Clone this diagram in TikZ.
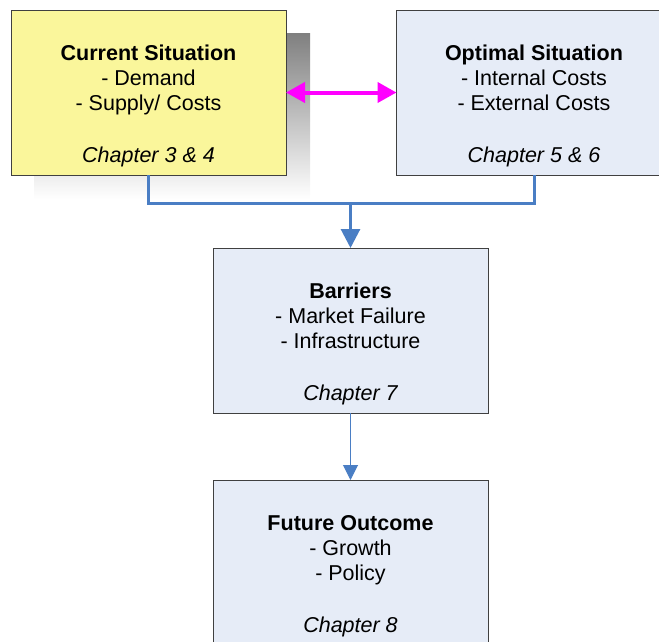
\documentclass[tikz,border=0pt]{standalone}
\usepackage{fontspec}
\setmainfont{Liberation Sans}
\usetikzlibrary{arrows.meta}
\definecolor{yfill}{RGB}{250,246,155}
\definecolor{bfill}{RGB}{230,236,247}
\definecolor{shade}{RGB}{227,227,227}
\definecolor{edge}{RGB}{64,64,64}
\definecolor{conn}{RGB}{74,126,196}
\definecolor{mag}{RGB}{255,0,255}
\tikzset{
  box/.style={draw=edge, line width=1pt, minimum width=275pt, minimum height=165pt, inner sep=0pt, outer sep=0pt},
  txt/.style={anchor=base, inner sep=0pt, font=\fontsize{21.5}{25}\selectfont},
  ttl/.style={txt, font=\fontsize{21.5}{25}\selectfont\bfseries},
  chp/.style={txt, font=\fontsize{21.5}{25}\selectfont\itshape},
}
\begin{document}
\begin{tikzpicture}[x=1pt,y=-1pt]
\useasboundingbox (0,0) rectangle (659,641);
% shadow
\fill[shade] (34,33) rectangle (310,199);
% boxes
\node[box, fill=yfill] (cur) at (148.5,92.5) {};
\node[box, fill=bfill] (opt) at (534,92.5) {};
\node[box, fill=bfill] (bar) at (350.5,330.5) {};
\node[box, fill=bfill] (fut) at (350.5,562.5) {};
% texts
\node[ttl] (t1) at (148.5,60) {Current Situation};
\node[txt] (t2) at (148.5,85) {- Demand};
\node[txt] (t3) at (148.5,110) {- Supply/ Costs};
\node[chp] (t4) at (148.5,162) {Chapter 3 \& 4};
\node[ttl] (o1) at (534,60) {Optimal Situation};
\node[txt] (o2) at (534,85) {- Internal Costs};
\node[txt] (o3) at (534,110) {- External Costs};
\node[chp] (o4) at (534,162) {Chapter 5 \& 6};
\node[ttl] (b1) at (350.5,298) {Barriers};
\node[txt] (b2) at (350.5,323) {- Market Failure};
\node[txt] (b3) at (350.5,348) {- Infrastructure};
\node[chp] (b4) at (350.5,400) {Chapter 7};
\node[ttl] (f1) at (350.5,530) {Future Outcome};
\node[txt] (f2) at (350.5,555) {- Growth};
\node[txt] (f3) at (350.5,580) {- Policy};
\node[chp] (f4) at (350.5,632) {Chapter 8};
% connectors
\coordinate (j) at (350.5,203);
\draw[conn, line width=3pt] (cur.south) |- (j) -| (opt.south);
\draw[conn, line width=3pt, -{Triangle[length=19pt,width=19pt]}] (j) -- (bar.north);
\draw[conn, line width=1pt, -{Triangle[length=15pt,width=15pt]}] (bar.south) -- (fut.north);
\draw[mag, line width=4pt, {Triangle[length=19pt,width=20pt]}-{Triangle[length=19pt,width=20pt]}] (cur.east) -- (opt.west);
\end{tikzpicture}
\end{document}
